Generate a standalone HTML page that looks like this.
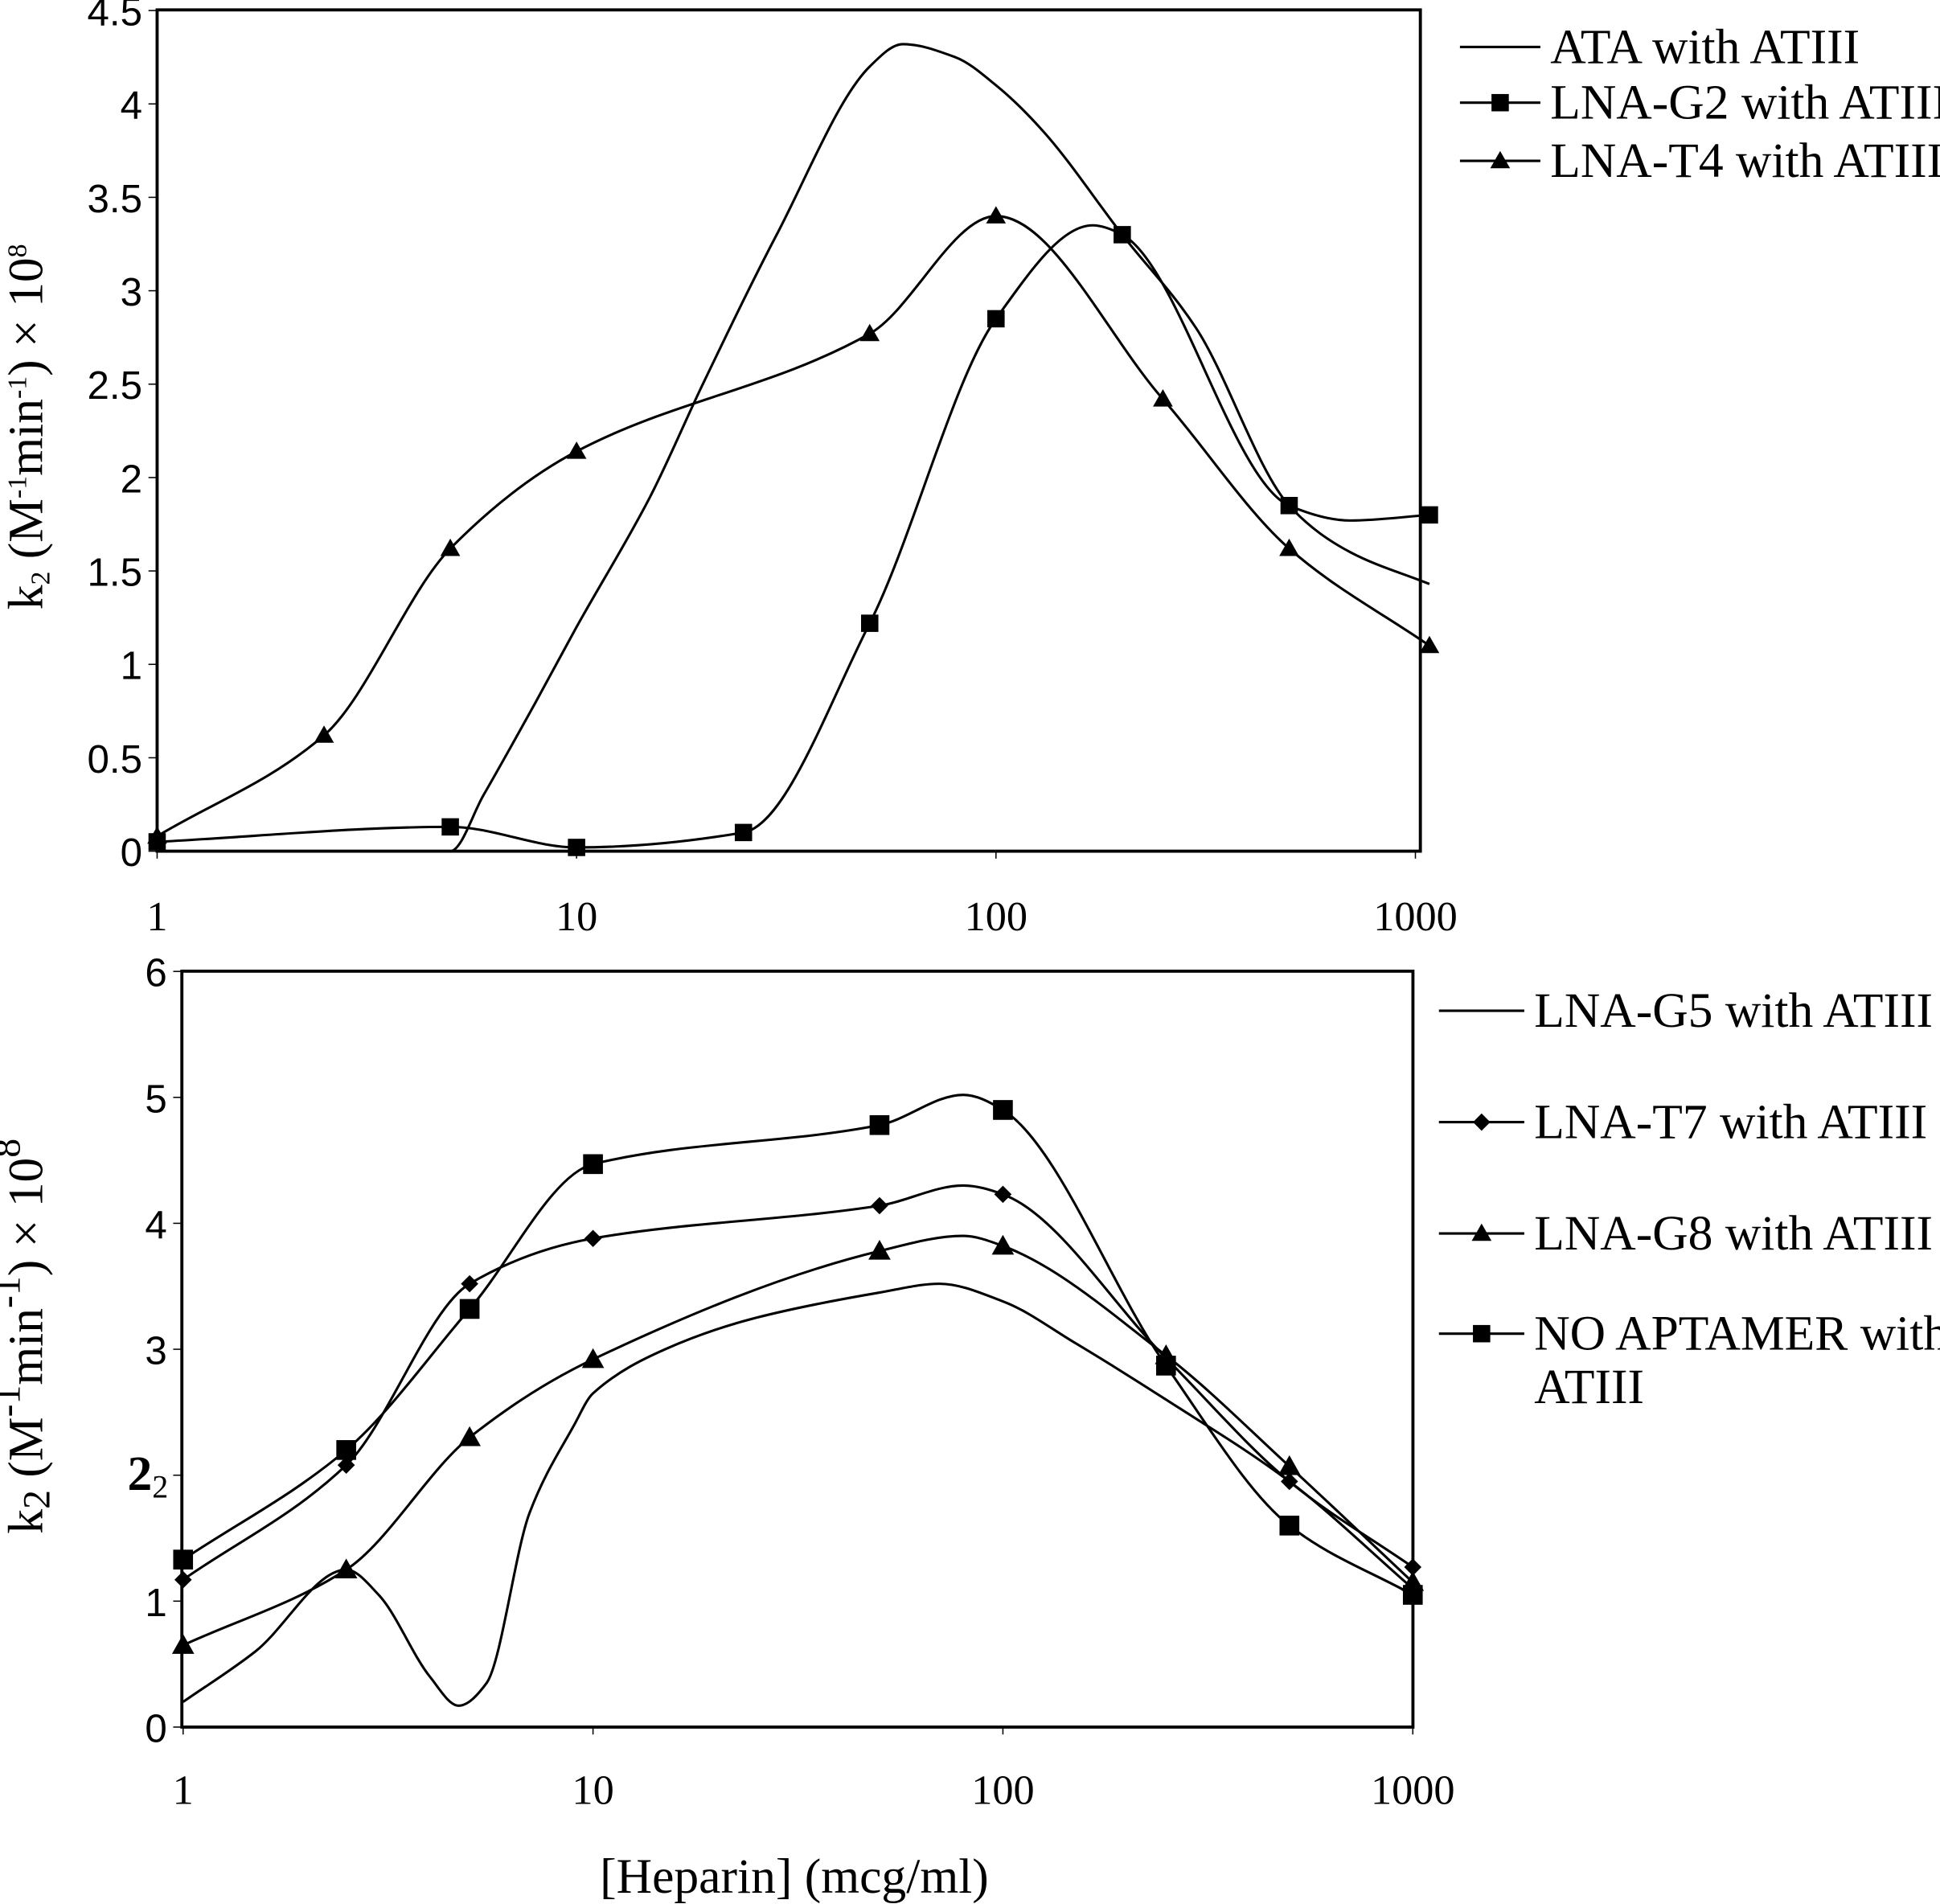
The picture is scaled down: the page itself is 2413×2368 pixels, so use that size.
<!DOCTYPE html>
<html><head><meta charset="utf-8"><style>
html,body{margin:0;padding:0;background:#fff}
svg{display:block}
.t{font-family:"Liberation Sans",sans-serif;font-size:32px;fill:#000}
.s{font-family:"Liberation Serif",serif;font-size:34px;fill:#000}
.l{font-family:"Liberation Serif",serif;font-size:40px;fill:#000}
</style></head><body>
<svg id="c" width="2413" height="2368" viewBox="0 0 1568 1539" preserveAspectRatio="none" xmlns="http://www.w3.org/2000/svg">
<rect width="1568" height="1539" fill="#fff"/>
<g id="g"></g>
</svg>
<script>
// ---- Top chart data ----
const topXTicks=[1,10,100,1000];
const topYTicks=[0,0.5,1,1.5,2,2.5,3,3.5,4,4.5];
const ataX=[1,3,5,6,8,10,15,20,30,50,60,80,100,130,200,300,500,700,1080];
const ataY=[0.0,0.0,0.0,0.3,0.8,1.2,1.9,2.5,3.3,4.2,4.32,4.25,4.1,3.85,3.3,2.8,1.85,1.6,1.43];
const g2X=[1,5,10,25,50,100,170,200,500,700,1080];
const g2Y=[0.05,0.13,0.02,0.1,1.22,2.85,3.35,3.3,1.85,1.77,1.8];
const g2MX=[1,5,10,25,50,100,200,500,1080];
const g2MY=[0.05,0.13,0.02,0.1,1.22,2.85,3.3,1.85,1.8];
const t4X=[1,2.5,5,10,50,100,250,500,1080];
const t4Y=[0.08,0.62,1.62,2.14,2.77,3.4,2.42,1.62,1.1];
// ---- Bottom chart data ----
const botYTicks=[0,1,2,3,4,5,6];
const g5X=[1,1.5,2.5,3,4,4.7,5.5,7,9,10,15,25,50,70,100,150,250,500,1000];
const g5Y=[0.2,0.6,1.25,1.05,0.4,0.17,0.35,1.7,2.4,2.65,3.0,3.25,3.45,3.52,3.38,3.05,2.6,1.95,1.1];
const t7X=[1,2.5,5,10,50,80,100,250,500,1000];
const t7Y=[1.17,2.08,3.52,3.88,4.14,4.3,4.23,2.93,1.95,1.27];
const g8X=[1,2.5,5,10,50,80,100,250,500,1000];
const g8Y=[0.65,1.25,2.3,2.92,3.78,3.9,3.82,2.95,2.07,1.15];
const noX=[1,2.5,5,10,50,80,100,250,500,1000];
const noY=[1.33,2.2,3.32,4.47,4.78,5.02,4.9,2.87,1.6,1.05];
const markIdx=[0,1,2,3,4,6,7,8,9];

const NS="http://www.w3.org/2000/svg";
const G=document.getElementById('g');
function mk(tag,at,name,parent){const e=document.createElementNS(NS,tag);for(const k in at)e.setAttribute(k,at[k]);


(parent||G).appendChild(e);return e;}
function txt(s,x,y,cls,name,anchor,extra){const e=mk('text',Object.assign({x:x,y:y,class:cls,'text-anchor':anchor||'middle'},extra||{}),name);e.textContent=s;return e;}

function chart(o){
  const X=v=>o.x0+Math.log10(v)*o.dec, Y=v=>o.y0-v*o.ys;
  o.X=X;o.Y=Y;
  mk('rect',{x:o.bx0,y:o.by0,width:o.bx1-o.bx0,height:o.by1-o.by0,fill:'none',stroke:'#000','stroke-width':2.5},o.p+'plot-frame');
  o.yt.forEach(v=>{mk('line',{x1:o.bx0-7,x2:o.bx0,y1:Y(v),y2:Y(v),stroke:'#000','stroke-width':1},o.p+'y-tick');
    if(o.special && v===2){
      const e=mk('text',{x:o.bx0-24,y:Y(v)+12,class:'l','text-anchor':'end','font-weight':'bold'},o.p+'y-tick-label');
      e.textContent='2';
      const f=mk('text',{x:o.bx0-24,y:Y(v)+18,'text-anchor':'start','style':'font-family:Liberation Serif,serif;font-size:26px'},o.p+'y-tick-label-sub');
      f.textContent='2';
    } else txt(String(v),o.bx0-12,Y(v)+12,'t',o.p+'y-tick-label','end');});
  topXTicks.forEach(v=>{mk('line',{x1:X(v),x2:X(v),y1:o.by1,y2:o.by1+6,stroke:'#000','stroke-width':1},o.p+'x-tick');
    txt(String(v),X(v),o.xly,'s',o.p+'x-tick-label');});
  return o;
}
function curve(o,xs,ys,name){
  const P=xs.map((x,i)=>[o.X(x),o.Y(ys[i])]);
  const n=P.length, d=[], m=new Array(n);
  for(let i=0;i<n-1;i++)d.push((P[i+1][1]-P[i][1])/(P[i+1][0]-P[i][0]));
  m[0]=d[0];m[n-1]=d[n-2];
  for(let i=1;i<n-1;i++){m[i]=(d[i-1]*d[i]<=0)?0:2/(1/d[i-1]+1/d[i]);}
  let s='M'+P[0][0]+','+P[0][1];
  for(let i=0;i<n-1;i++){const h=(P[i+1][0]-P[i][0])/3;
    s+=' C'+(P[i][0]+h)+','+(P[i][1]+m[i]*h)+' '+(P[i+1][0]-h)+','+(P[i+1][1]-m[i+1]*h)+' '+P[i+1][0]+','+P[i+1][1];}
  mk('path',{d:s,fill:'none',stroke:'#000','stroke-width':2},name);
}
function marker(type,x,y,name,sz){sz=sz||8;
  if(type==='sq')mk('rect',{x:x-sz,y:y-sz,width:2*sz,height:2*sz,fill:'#000'},name);
  else if(type==='tri')mk('polygon',{points:`${x},${y-sz-1} ${x+sz+1},${y+sz-1} ${x-sz-1},${y+sz-1}`,fill:'#000'},name);
  else if(type==='dia')mk('polygon',{points:`${x},${y-sz} ${x+sz},${y} ${x},${y+sz} ${x-sz},${y}`,fill:'#000'},name);
}
function marks(o,xs,ys,type,name,sz){xs.forEach((x,i)=>marker(type,o.X(x),o.Y(ys[i]),name,sz));}

const T=chart({p:'top-',x0:127,dec:339,y0:688,ys:151,bx0:127,bx1:1148,by0:8,by1:688,yt:topYTicks,xly:752});
curve(T,ataX,ataY,'series-ata');
curve(T,g2X,g2Y,'series-lna-g2');marks(T,g2MX,g2MY,'sq','marker-lna-g2',7);
curve(T,t4X,t4Y,'series-lna-t4');marks(T,t4X,t4Y,'tri','marker-lna-t4',7);

const B=chart({p:'bottom-',x0:148,dec:331.3,y0:1396,ys:101.8,bx0:147,bx1:1142,by0:785,by1:1396,yt:botYTicks,xly:1458,special:true});
curve(B,g5X,g5Y,'series-lna-g5');
curve(B,t7X,t7Y,'series-lna-t7');marks(B,t7X.filter((_,i)=>markIdx.includes(i)),t7Y.filter((_,i)=>markIdx.includes(i)),'dia','marker-lna-t7',7);
curve(B,g8X,g8Y,'series-lna-g8');marks(B,g8X.filter((_,i)=>markIdx.includes(i)),g8Y.filter((_,i)=>markIdx.includes(i)),'tri','marker-lna-g8',8);
curve(B,noX,noY,'series-no-aptamer');marks(B,noX.filter((_,i)=>markIdx.includes(i)),noY.filter((_,i)=>markIdx.includes(i)),'sq','marker-no-aptamer',8);

// legends
function leg(x1,x2,y,type,label,name,fs){mk('line',{x1:x1,x2:x2,y1:y,y2:y,stroke:'#000','stroke-width':2},name+'-line');
  if(type)marker(type,(x1+x2)/2,y,name+'-marker',7);
  txt(label,x2+8,y+13,'l',name+'-label','start',{'font-size':fs});}
leg(1180,1245,38,null,'ATA with ATIII','legend-ata',42);
leg(1180,1245,83,'sq','LNA-G2 with ATIII','legend-lna-g2',41);
leg(1180,1245,130,'tri','LNA-T4 with ATIII','legend-lna-t4',41);
leg(1163,1232,817,null,'LNA-G5 with ATIII','legend-lna-g5',38.5);
leg(1163,1232,907,'dia','LNA-T7 with ATIII','legend-lna-t7',38.5);
leg(1163,1232,997,'tri','LNA-G8 with ATIII','legend-lna-g8',38.5);
leg(1163,1232,1078,'sq','NO APTAMER with','legend-no-aptamer',37.5);
txt('ATIII',1240,1134,'l','legend-no-aptamer-label-2','start',{'font-size':38.5});

// axis titles
function ytitle(cy,name,fs){const e=mk('text',{x:0,y:0,class:'l','text-anchor':'middle','font-size':fs,transform:`translate(34,${cy}) rotate(-90)`},name);
  const sb=Math.round(fs*0.62), sh=Math.round(fs*0.36);
  e.innerHTML=`k<tspan font-size="${sb}" dy="6">2</tspan><tspan dy="-6"> (M</tspan><tspan font-size="${sb}" dy="-${sh}">-1</tspan><tspan dy="${sh}">min</tspan><tspan font-size="${sb}" dy="-${sh}">-1</tspan><tspan dy="${sh}">) × 10</tspan><tspan font-size="${sb}" dy="-${sh}">8</tspan>`;}
ytitle(345,'top-y-axis-title',36);
ytitle(1080,'bottom-y-axis-title',50);
txt('[Heparin] (mcg/ml)',642,1530,'l','x-axis-title','middle',{'font-size':'74'});
</script>
</body></html>
